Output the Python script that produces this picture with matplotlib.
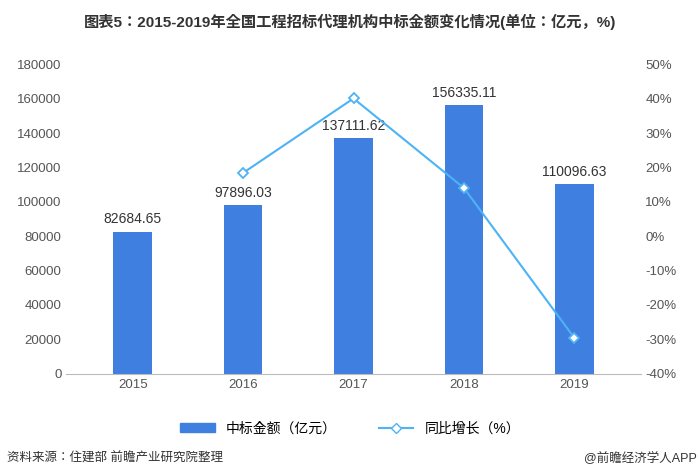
import matplotlib.pyplot as plt
from matplotlib import font_manager
from matplotlib.lines import Line2D
from matplotlib.patches import Patch

cjk = sorted({f.name for f in font_manager.fontManager.ttflist if 'CJK' in f.name and 'Sans' in f.name})
cjk_name = 'Noto Sans CJK SC' if 'Noto Sans CJK SC' in cjk else (cjk[0] if cjk else 'DejaVu Sans')
plt.rcParams['font.family'] = ['Liberation Sans', cjk_name]

years = ['2015', '2016', '2017', '2018', '2019']
amount = [82684.65, 97896.03, 137111.62, 156335.11, 110096.63]
growth_years = ['2016', '2017', '2018', '2019']
growth = [18.40, 40.06, 14.02, -29.58]

fig = plt.figure(figsize=(7, 4.76), dpi=100)
ax = fig.add_axes([0.095, 0.215, 0.82, 0.65])
x = range(len(years))
ax.bar(x, amount, width=0.35, color='#3f7fe0')
for i, v in enumerate(amount):
    ax.text(i, v + 3000, f'{v:.2f}', ha='center', va='bottom', fontsize=10, color='#333333')
ax.set_ylim(0, 180000)
ax.set_yticks(range(0, 180001, 20000))
ax.set_xticks(list(x))
ax.set_xticklabels(years)
ax.set_xlim(-0.6, 4.6)
for s in ['top', 'right', 'left']:
    ax.spines[s].set_visible(False)
ax.spines['bottom'].set_color('#bbbbbb')
ax.tick_params(length=0, labelsize=9.5, colors='#555555')

ax2 = ax.twinx()
gx = [years.index(y) for y in growth_years]
ax2.plot(gx, growth, color='#4db3f5', lw=1.5, marker='D', ms=5,
         mfc='white', mec='#4db3f5', mew=1.3)
ax2.set_ylim(-40, 50)
ax2.set_yticks(range(-40, 51, 10))
ax2.set_yticklabels([f'{t}%' for t in range(-40, 51, 10)])
for s in ax2.spines.values():
    s.set_visible(False)
ax2.tick_params(length=0, labelsize=9.5, colors='#555555')

fig.text(0.5, 0.955, '图表5：2015-2019年全国工程招标代理机构中标金额变化情况(单位：亿元，%)',
         ha='center', va='center', fontsize=11, fontweight='bold', color='#333333')
handles = [Patch(color='#3f7fe0'),
           Line2D([], [], color='#4db3f5', marker='D', ms=5, mfc='white', mec='#4db3f5')]
fig.legend(handles, ['中标金额（亿元）', '同比增长（%）'], loc='center', ncol=2,
           bbox_to_anchor=(0.5, 0.1), frameon=False, fontsize=10, handlelength=2.5,
           columnspacing=3)
fig.text(0.01, 0.03, '资料来源：住建部 前瞻产业研究院整理', fontsize=9, color='#333333')
fig.text(0.995, 0.03, '@前瞻经济学人APP', fontsize=9, color='#333333', ha='right')
fig.savefig('out.png', dpi=100)
